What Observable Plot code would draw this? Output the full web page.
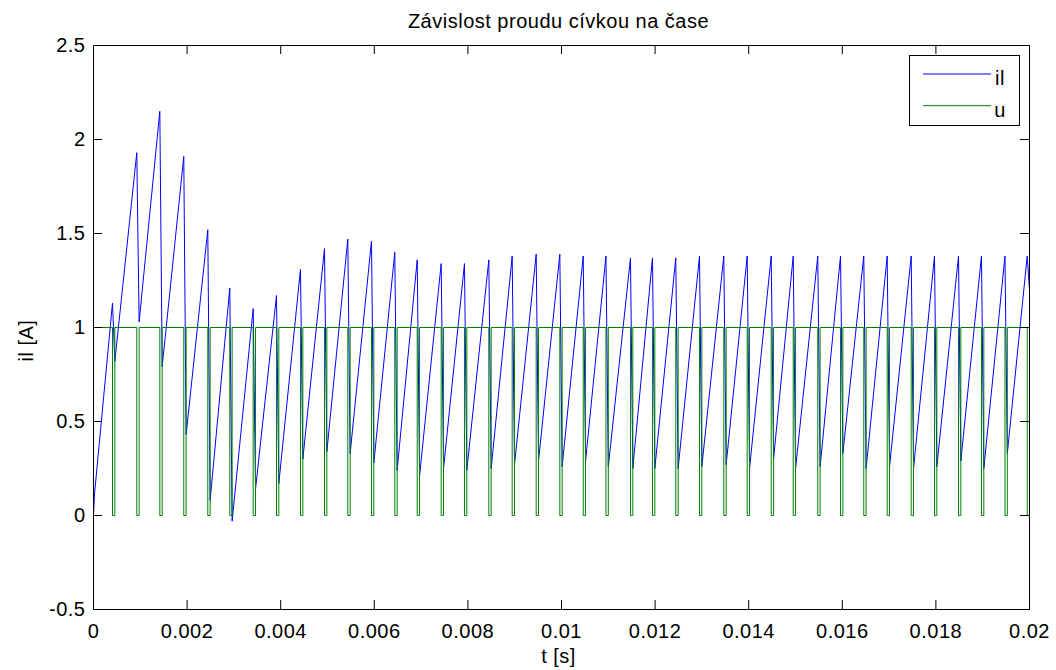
<!DOCTYPE html>
<html>
<head>
<meta charset="utf-8">
<script src="https://cdn.jsdelivr.net/npm/d3@7"></script>
<script src="https://cdn.jsdelivr.net/npm/@observablehq/plot@0.6"></script>
<style>
  html, body { margin: 0; padding: 0; background: #fff; }
  #chart svg { display: block; }
</style>
</head>
<body>
<div id="chart"></div>
<script>
// Switching instants: start of each zero pulse of u (s)
const pulseStart = [
  0.000406, 0.000925, 0.001417, 0.001929, 0.002442, 0.002912, 0.003412, 0.003910,
  0.004423, 0.004936, 0.005434, 0.005940, 0.006438, 0.006917, 0.007429, 0.007927,
  0.008447, 0.008946, 0.009459, 0.009964, 0.010464, 0.010950, 0.011474, 0.011944,
  0.012442, 0.012949, 0.013468, 0.013968, 0.014481, 0.014951, 0.015476, 0.015962,
  0.016459, 0.016959, 0.017472, 0.017970, 0.018483, 0.018974, 0.019476, 0.019951
];
// Length of each zero pulse (s)
const pulseWidth = 0.00005;

// Coil current at the start of each pulse (peak, A)
const ilPeak = [
  1.13, 1.93, 2.15, 1.91, 1.52, 1.21, 1.10, 1.17, 1.31, 1.42,
  1.47, 1.46, 1.40, 1.36, 1.34, 1.34, 1.36, 1.38, 1.39, 1.39,
  1.38, 1.38, 1.37, 1.37, 1.37, 1.38, 1.38, 1.38, 1.38, 1.38,
  1.38, 1.38, 1.38, 1.38, 1.38, 1.38, 1.38, 1.38, 1.38, 1.38
];
// Coil current at the end of each pulse (trough, A)
const ilTrough = [
  0.82, 1.03, 0.79, 0.43, 0.08, -0.03, 0.14, 0.17, 0.30, 0.34,
  0.33, 0.28, 0.24, 0.21, 0.25, 0.24, 0.25, 0.27, 0.29, 0.26,
  0.29, 0.26, 0.25, 0.25, 0.25, 0.26, 0.27, 0.25, 0.30, 0.25,
  0.26, 0.33, 0.25, 0.26, 0.25, 0.26, 0.29, 0.25, 0.33, 1.20
];
// Initial samples of the current
const ilStartT = [0, 0.00002];
const ilStartV = [0, 0.11];

// Axis ticks
const xTicks = [0, 0.002, 0.004, 0.006, 0.008, 0.01, 0.012, 0.014, 0.016, 0.018, 0.02];
const yTicks = [-0.5, 0, 0.5, 1, 1.5, 2, 2.5];
const xDomain = [0, 0.02];
const yDomain = [-0.5, 2.5];

// Legend
const seriesNames = ["il", "u"];
const seriesColors = ["#0000ff", "#008000"];

// Build the two traces
const il = ilStartT.map((t, i) => ({t, v: ilStartV[i]}));
pulseStart.forEach((t, k) => {
  il.push({t, v: ilPeak[k]});
  il.push({t: Math.min(t + pulseWidth, xDomain[1]), v: ilTrough[k]});
});

const u = [{t: xDomain[0], v: 1}];
pulseStart.forEach((t) => {
  const end = Math.min(t + pulseWidth, xDomain[1]);
  u.push({t, v: 1}, {t, v: 0}, {t: end, v: 0}, {t: end, v: 1});
});

const W = 1056, H = 670;
const mL = 93, mR = 27, mT = 45, mB = 61;
const plotW = W - mL - mR, plotH = H - mT - mB;
const tickLen = 9;
const font = "'Liberation Sans', Arial, Helvetica, sans-serif";
const fmt = (d) => String(d);

const chart = Plot.plot({
  width: W,
  height: H,
  marginLeft: mL,
  marginRight: mR,
  marginTop: mT,
  marginBottom: mB,
  style: {fontFamily: font, fontSize: "20px", letterSpacing: "0.5px", color: "#000", background: "#fff", overflow: "visible"},
  x: {domain: xDomain},
  y: {domain: yDomain},
  marks: [
    Plot.line(il, {x: "t", y: "v", stroke: seriesColors[0], strokeWidth: 1, clip: true}),
    Plot.line(u, {x: "t", y: "v", stroke: seriesColors[1], strokeWidth: 1, clip: true}),
    Plot.frame({stroke: "#000", strokeWidth: 1}),
    // inward ticks on all four sides
    Plot.ruleX(xTicks, {x: (d) => d, insetTop: plotH - tickLen, stroke: "#000"}),
    Plot.ruleX(xTicks, {x: (d) => d, insetBottom: plotH - tickLen, stroke: "#000"}),
    Plot.ruleY(yTicks, {y: (d) => d, insetRight: plotW - tickLen, stroke: "#000"}),
    Plot.ruleY(yTicks, {y: (d) => d, insetLeft: plotW - tickLen, stroke: "#000"}),
    Plot.axisX(xTicks, {tickSize: 0, tickPadding: 14, tickFormat: fmt, label: null, fill: "#000"}),
    Plot.axisY(yTicks, {tickSize: 0, tickPadding: 8, tickFormat: fmt, label: null, fill: "#000"}),
    Plot.text(["Závislost proudu cívkou na čase"], {
      frameAnchor: "top", dx: -3, dy: -18, lineAnchor: "bottom", fill: "#000"
    }),
    Plot.text(["t [s]"], {
      frameAnchor: "bottom", dx: -3, dy: 53, lineAnchor: "bottom", fill: "#000"
    }),
    Plot.text(["il [A]"], {
      frameAnchor: "left", rotate: -90, dx: -67, dy: 34, lineAnchor: "middle", fill: "#000"
    })
  ]
});

// Legend box in the upper right corner of the axes
const svg = d3.select(chart);
const lg = svg.append("g").attr("font-family", font).attr("font-size", 20).attr("letter-spacing", "0.5px");
const box = {x: 909.5, y: 55.5, w: 110, h: 70};
lg.append("rect")
  .attr("x", box.x).attr("y", box.y).attr("width", box.w).attr("height", box.h)
  .attr("fill", "#fff").attr("stroke", "#000");
seriesNames.forEach((name, i) => {
  const cy = 74 + i * 31.7;
  lg.append("line")
    .attr("x1", 923).attr("x2", 991).attr("y1", cy).attr("y2", cy)
    .attr("stroke", seriesColors[i]).attr("stroke-width", 1);
  lg.append("text")
    .attr("x", 1000).attr("y", cy + 11)
    .attr("fill", "#000").text(name);
});

document.getElementById("chart").appendChild(chart);
</script>
</body>
</html>
